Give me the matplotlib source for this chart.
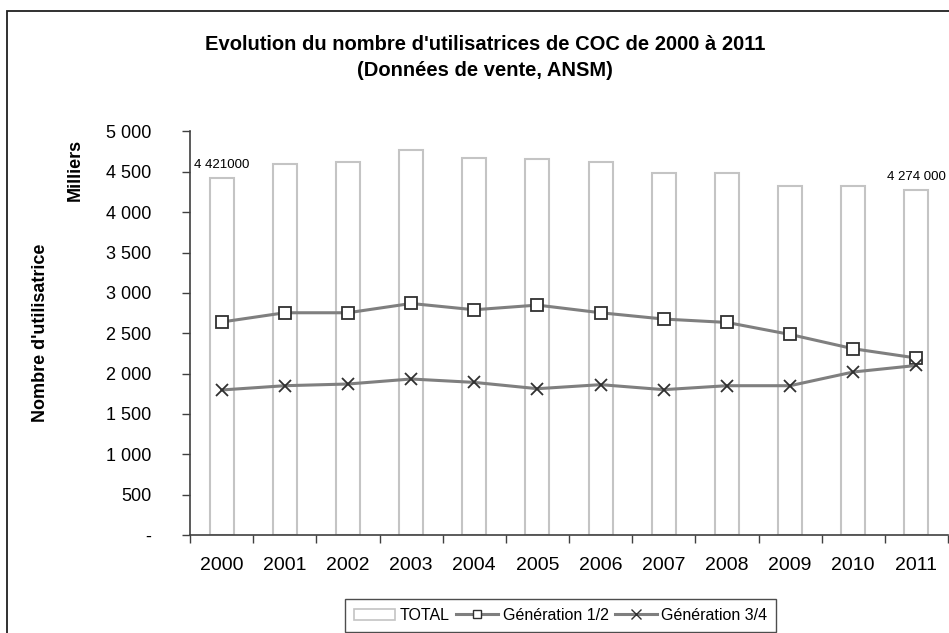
import matplotlib.pyplot as plt
import matplotlib.patches as mpatches
from matplotlib.lines import Line2D
from matplotlib.ticker import FixedLocator, FuncFormatter
import numpy as np

plt.rcParams['font.family'] = ['Liberation Sans', 'DejaVu Sans']

years = ['2000', '2001', '2002', '2003', '2004', '2005',
         '2006', '2007', '2008', '2009', '2010', '2011']
total = [4421, 4601, 4619, 4771, 4672, 4656, 4619, 4483, 4483, 4329, 4329, 4274]
gen12 = [2639, 2754, 2754, 2869, 2791, 2849, 2754, 2676, 2634, 2485, 2308, 2193]
gen34 = [1797, 1850, 1871, 1933, 1891, 1813, 1863, 1801, 1850, 1850, 2020, 2101]
total_labels = {0: '4 421000', 11: '4 274 000'}

W, H = 949, 633
fig = plt.figure(figsize=(W / 100, H / 100), dpi=100)

# frame round the chart area (runs off the right and bottom edges)
fig.patches.append(mpatches.Rectangle((7 / W, -0.1), 1, 1.1 - 11 / H, transform=fig.transFigure,
                                      fill=False, edgecolor='#202020', linewidth=1.3,
                                      clip_on=False))

ax = fig.add_axes([190 / W, 98 / H, 758 / W, 403.5 / H])
x = np.arange(len(years))

ax.bar(x, total, width=0.38, color='white', edgecolor='#c4c4c4', linewidth=1.5, zorder=1)
ax.plot(x, gen12, color='#7f7f7f', linewidth=2.2, marker='s', markersize=8,
        markerfacecolor='white', markeredgecolor='#303030', markeredgewidth=1.3, zorder=3)
ax.plot(x, gen34, color='#7f7f7f', linewidth=2.2, marker='x', markersize=9,
        markeredgecolor='#303030', markeredgewidth=1.3, zorder=3)

for i, lab in total_labels.items():
    ax.text(x[i], total[i] + 90, lab, ha='center', va='bottom', fontsize=9.5)

ax.set_xlim(-0.5, len(years) - 0.5)
ax.set_ylim(0, 5000)

ax.set_xticks(x)
ax.set_xticklabels(years, fontsize=14)
ax.xaxis.set_minor_locator(FixedLocator(np.arange(-0.5, len(years), 1)))
ax.tick_params(axis='x', which='major', length=0, pad=16)
ax.tick_params(axis='x', which='minor', length=6, width=1, color='#404040')

ax.set_yticks(np.arange(0, 5001, 500))
ax.yaxis.set_major_formatter(FuncFormatter(
    lambda v, p: '-' if v == 0 else f'{int(v):,}'.replace(',', ' ')))
ax.tick_params(axis='y', length=6, width=1, color='#404040', labelsize=13, pad=22)

for s in ['top', 'right']:
    ax.spines[s].set_visible(False)
for s in ['left', 'bottom']:
    ax.spines[s].set_color('#404040')
    ax.spines[s].set_linewidth(1.2)

fig.text(485 / W, 1 - 45 / H, "Evolution du nombre d'utilisatrices de COC de 2000 à 2011",
         ha='center', va='center', fontsize=14.5, fontweight='bold')
fig.text(485 / W, 1 - 70 / H, "(Données de vente, ANSM)",
         ha='center', va='center', fontsize=14.5, fontweight='bold')
fig.text(75 / W, 1 - 170 / H, "Milliers", rotation=90, ha='center', va='center',
         fontsize=13, fontweight='bold')
fig.text(41 / W, 1 - 333 / H, "Nombre d'utilisatrice", rotation=90, ha='center', va='center',
         fontsize=13, fontweight='bold')

handles = [
    mpatches.Patch(facecolor='white', edgecolor='#c4c4c4', linewidth=1.2),
    Line2D([], [], color='#7f7f7f', linewidth=2.2, marker='s', markersize=6,
           markerfacecolor='white', markeredgecolor='#303030', markeredgewidth=1),
    Line2D([], [], color='#7f7f7f', linewidth=2.2, marker='x', markersize=7,
           markeredgecolor='#303030', markeredgewidth=1),
]
leg = fig.legend(handles, ['TOTAL', 'Génération 1/2', 'Génération 3/4'],
                 loc='upper left', bbox_to_anchor=(345 / W, 1 - 599 / H), ncol=3,
                 fontsize=11.5, frameon=True, fancybox=False, edgecolor='#202020',
                 handlelength=2.6, handletextpad=0.3, columnspacing=0.4,
                 borderpad=0.55, borderaxespad=0)
leg.get_frame().set_linewidth(1.0)

fig.savefig('out.png', dpi=100)
